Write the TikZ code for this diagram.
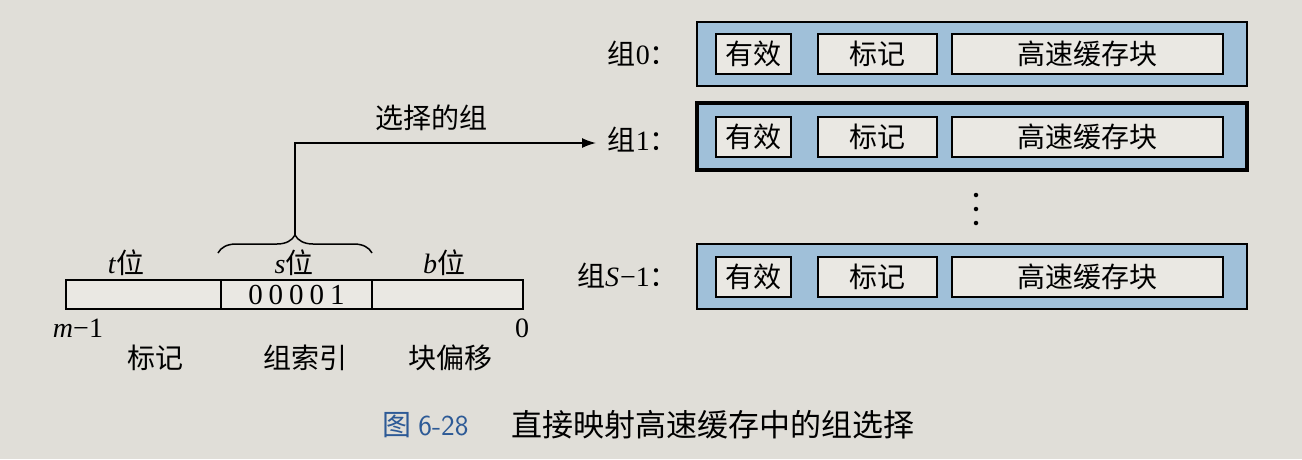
\documentclass[tikz,border=0pt]{standalone}
\usepackage{fontspec}
\setmainfont{Liberation Serif}
\newfontfamily\cjk{Noto Sans CJK SC}
\usetikzlibrary{decorations.pathreplacing,arrows.meta}
\definecolor{paper}{RGB}{224,222,216}
\definecolor{innerfill}{RGB}{234,232,227}
\definecolor{setblue}{RGB}{160,192,217}
\definecolor{capblue}{RGB}{45,90,150}
\begin{document}
\begin{tikzpicture}[x=1pt,y=-1pt,
  txt/.style={font=\fontsize{28}{30}\selectfont, inner sep=0pt},
  outerbox/.style={draw=black, line width=2.5pt, fill=setblue, minimum width=550pt, inner sep=0pt},
  cell/.style={draw=black, line width=2pt, fill=innerfill, txt, minimum height=40pt},
  seg/.style={draw=black, line width=1.8pt, fill=innerfill, txt, minimum height=29pt},
  dotmark/.style={circle, fill=black, inner sep=0pt, minimum size=4.5pt},
  conn/.style={line width=1.5pt}
]
\fill[paper] (0,0) rectangle (1302,459);
\useasboundingbox (0,0) rectangle (1302,459);

% ---- sets ----
\node[outerbox, minimum height=64pt] (set0) at (972,54) {};
\node[outerbox, minimum height=67pt, line width=4pt] (set1) at (972,136.5) {};
\node[outerbox, minimum height=65pt] (setS) at (972,276.5) {};

\foreach \nm/\yy in {a/54, b/136.5, c/276.5}{
  \node[cell, minimum width=75pt] (v\nm) at (753.5,\yy) {\cjk 有效};
  \node[cell, minimum width=119pt] (t\nm) at (877.5,\yy) {\cjk 标记};
  \node[cell, minimum width=271pt] (k\nm) at (1087.5,\yy) {\cjk 高速缓存块};
}

\node[txt, anchor=east] (lbl0) at (678,54) {{\cjk 组}0{\cjk ：}};
\node[txt, anchor=east] (lbl1) at (678,140) {{\cjk 组}1{\cjk ：}};
\node[txt, anchor=east] (lblS) at (678,276) {{\cjk 组}\textit{S}\kern1pt\char"2212 1{\cjk ：}};

\node[dotmark] (d1) at (976,195) {};
\node[dotmark] (d2) at (976,209) {};
\node[dotmark] (d3) at (976,223) {};

% ---- address ----
\node[seg, minimum width=155pt] (tseg) at (143.5,294.5) {};
\node[seg, minimum width=151pt] (sseg) at (296.5,294.5) {\fontsize{29}{30}\selectfont 0\hspace{6pt}0\hspace{6pt}0\hspace{6pt}0\hspace{6pt}1};
\node[seg, minimum width=151pt] (bseg) at (447.5,294.5) {};

\node[txt] (tl) at (126,263) {\textit{t}{\cjk 位}};
\node[txt] (sl) at (294,263) {\textit{s}{\cjk 位}};
\node[txt] (bl) at (444,263) {\textit{b}{\cjk 位}};
\node[txt] (ml) at (78,328) {\textit{m}\char"2212 1};
\node[txt] (zl) at (522,328) {0};
\node[txt] (f1) at (155,358) {\cjk 标记};
\node[txt] (f2) at (305,358) {\cjk 组索引};
\node[txt] (f3) at (450,358) {\cjk 块偏移};

\coordinate (bl0) at (218,253);
\coordinate (br0) at (372,253);
\draw[conn, decorate, decoration={brace, amplitude=18pt}] (bl0) -- (br0);
\coordinate (btip) at (295,235);
\coordinate (aend) at (596,143);
\draw[conn, -{Latex[length=14pt,width=10pt]}] (btip) |- (aend);
\node[txt] (sel) at (431,118) {\cjk 选择的组};

% ---- caption ----
\node[inner sep=0pt, anchor=west, text=capblue, font=\fontsize{29}{32}\selectfont] (cap1) at (382,425) {{\cjk 图} {\sffamily 6-28}};
\node[inner sep=0pt, anchor=west, font=\fontsize{31}{34}\selectfont] (cap2) at (511,425) {\cjk 直接映射高速缓存中的组选择};
\end{tikzpicture}
\end{document}
